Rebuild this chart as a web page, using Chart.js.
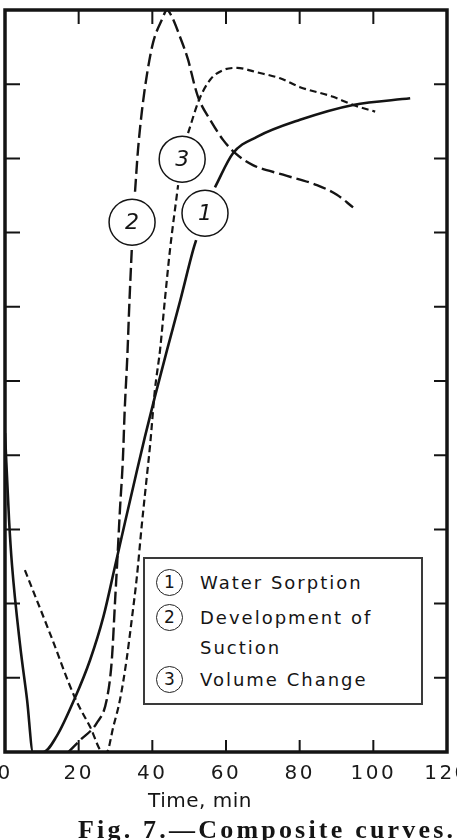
<!DOCTYPE html>
<html>
<head>
<meta charset="utf-8">
<title>Fig. 7 - Composite curves</title>
<script src="https://cdn.jsdelivr.net/npm/chart.js"></script>
<style>
	html, body { margin: 0; padding: 0; background: #fff; }
	body { width: 457px; height: 840px; overflow: hidden; position: relative; font-family: "DejaVu Sans", sans-serif; color: #151515; }
	#composite_chart { position: absolute; left: -20px; top: 0; }
	#legend-box { position: absolute; left: 143px; top: 557px; width: 276px; height: 144px; border: 2px solid #3a3a3a; background: #fff; }
	.legend-num { position: absolute; left: 11px; width: 25px; height: 25px; border: 1.6px solid #222; border-radius: 50%; text-align: center; font-size: 17px; line-height: 25px; }
	.legend-text { position: absolute; left: 55px; width: 190px; font-size: 18px; line-height: 30px; letter-spacing: 2px; }
	#axis-title { position: absolute; left: 0; top: 788px; width: 400px; text-align: center; font-size: 20px; line-height: 24px; letter-spacing: 0.5px; }
	#caption { position: absolute; left: 78px; top: 817px; font-family: "Liberation Serif", serif; font-weight: bold; font-size: 26px; line-height: 26px; letter-spacing: 3.2px; white-space: nowrap; }
</style>
</head>
<body>
<canvas id="composite_chart" width="497" height="800"></canvas>
<div id="legend-box"></div>
<div id="axis-title">Time, min</div>
<div id="caption">Fig. 7.—Composite curves.</div>

<script>
// valeurs (temps en min, ordonnée sans unité 0-10)
const seriesNames = ['Water Sorption', 'Development of Suction', 'Volume Change'];
const seriesNumbers = ['1', '2', '3'];

const sorptionTime  = [0, 1.1, 1.9, 4.1, 6.0, 7.6, 10.4, 14.0, 19.0, 23.1, 26.7, 29.9, 32.6, 35.3, 38.0, 40.7, 44.0, 47.5, 51.1, 51.9, 54.3, 57.0, 61.9, 68.4, 80.1, 94.5, 110.0];
const sorptionValue = [4.3, 3.13, 2.52, 1.44, 0.70, 0, 0, 0.21, 0.73, 1.24, 1.82, 2.51, 3.10, 3.68, 4.25, 4.79, 5.42, 6.07, 6.77, 6.90, null, 7.61, 8.07, 8.29, 8.52, 8.72, 8.81];

const suctionTime  = [17.2, 20.4, 24.9, 27.6, 29.0, 29.9, 30.5, 31.2, 32.0, 32.5, 33.2, 33.8, 34.5, 35.0, 35.3, 36.1, 37.2, 38.6, 40.2, 42.6, 44.0, 45.3, 47.5, 49.7, 51.6, 52.7, 55.7, 59.2, 62.5, 67.3, 75.5, 84.7, 90.1, 94.5];
const suctionValue = [0, 0.16, 0.39, 0.70, 1.24, 2.05, 2.59, 3.26, 3.94, 4.61, 5.32, 6.09, 6.86, null, 7.55, 8.11, 8.65, 9.15, 9.56, 9.87, 10.0, 9.91, 9.64, 9.33, 8.96, 8.79, 8.52, 8.25, 8.07, 7.91, 7.78, 7.64, 7.51, 7.34];

const volumeTime  = [5.4, 12.2, 19.0, 23.1, 26.6, 27.6, 29.4, 31.2, 33.0, 34.4, 35.8, 37.1, 38.5, 39.4, 40.7, 42.1, 43.4, 44.8, 47.0, 48.3, 49.7, 52.7, 55.7, 59.2, 63.0, 68.4, 74.7, 80.1, 89.1, 94.5, 100.5];
const volumeValue = [2.45, 1.60, 0.73, 0.34, 0, 0, 0.34, 0.70, 1.24, 1.78, 2.36, 3.04, 3.71, 4.14, 4.88, 5.42, 6.09, 6.77, 7.64, null, 8.34, 8.79, 9.06, 9.19, 9.22, 9.16, 9.08, 8.96, 8.83, 8.72, 8.63];

const xTickLabels = ['0', '20', '40', '60', '80', '100', '120'];

// étiquettes cerclées posées sur les courbes (en coordonnées des données)
const markerTime  = [54.3, 34.5, 48.1];
const markerValue = [7.26, 7.14, 7.99];

document.addEventListener('DOMContentLoaded', function()
{
	buildLegend();
	drawChart();
});

function toPoints(times, values)
{
	return times.map((t, i) => ({x: t, y: values[i]}));
}

function curve(label, times, values, dash, width)
{
	return {
		label: label,
		data: toPoints(times, values),
		borderColor: '#141414',
		borderWidth: width,
		borderDash: dash,
		pointRadius: 0,
		fill: false,
		spanGaps: false,
		cubicInterpolationMode: 'monotone'
	};
}

/* lettrage espacé pour les graduations (comme sur la figure) */
const spacedTicks = {
	id: 'spacedTicks',
	beforeDraw(chart)
	{
		chart.ctx.letterSpacing = '2.5px';
	},
	afterDraw(chart)
	{
		chart.ctx.letterSpacing = '0px';
	}
};

/* cadre épais + petites graduations vers l'intérieur + numéros cerclés */
const frameAndMarkers = {
	id: 'frameAndMarkers',
	afterDatasetsDraw(chart)
	{
		const ctx = chart.ctx;
		const a = chart.chartArea;
		const x = chart.scales.x;
		const y = chart.scales.y;

		ctx.save();
		ctx.strokeStyle = '#141414';
		ctx.lineWidth = 2;
		ctx.setLineDash([]);
		ctx.beginPath();
		x.ticks.forEach(t =>
		{
			if (t.value <= x.min || t.value >= x.max)
				return;
			const px = x.getPixelForValue(t.value);
			ctx.moveTo(px, a.bottom); ctx.lineTo(px, a.bottom - 12);
			ctx.moveTo(px, a.top); ctx.lineTo(px, a.top + 14);
		});
		y.ticks.forEach(t =>
		{
			if (t.value <= y.min || t.value >= y.max)
				return;
			const py = y.getPixelForValue(t.value);
			ctx.moveTo(a.left, py); ctx.lineTo(a.left + 15, py);
			ctx.moveTo(a.right, py); ctx.lineTo(a.right - 13, py);
		});
		ctx.stroke();

		ctx.lineWidth = 3.5;
		ctx.strokeRect(a.left, a.top, a.right - a.left, a.bottom - a.top);

		ctx.letterSpacing = '0px';
		ctx.lineWidth = 1.5;
		ctx.font = 'italic 22px "DejaVu Sans"';
		ctx.textAlign = 'center';
		ctx.textBaseline = 'middle';
		seriesNumbers.forEach((n, i) =>
		{
			const cx = x.getPixelForValue(markerTime[i]);
			const cy = y.getPixelForValue(markerValue[i]);
			ctx.beginPath();
			ctx.arc(cx, cy, 23, 0, Math.PI * 2);
			ctx.fillStyle = '#fff';
			ctx.fill();
			ctx.stroke();
			ctx.fillStyle = '#141414';
			ctx.fillText(n, cx, cy + 1);
		});
		ctx.restore();
	}
};

function drawChart()
{
	const ctx = document.getElementById('composite_chart').getContext('2d');

	new Chart(ctx, {
		type: 'line',
		data: {
			datasets: [
				curve(seriesNames[0], sorptionTime, sorptionValue, [], 2.6),
				curve(seriesNames[1], suctionTime, suctionValue, [13, 5], 2.4),
				curve(seriesNames[2], volumeTime, volumeValue, [7, 4], 2.2)
			]
		},
		options: {
			responsive: false,
			animation: false,
			layout: { padding: { left: 25, right: 30, top: 10, bottom: 4 } },
			plugins: {
				legend: { display: false },
				tooltip: { enabled: false }
			},
			scales: {
				x: {
					type: 'linear',
					min: 0,
					max: 120,
					grid: { display: false, drawTicks: false },
					border: { display: false },
					ticks: {
						stepSize: 20,
						padding: 10,
						color: '#1a1a1a',
						font: { family: 'DejaVu Sans', size: 20 },
						callback: (v) => xTickLabels[v / 20]
					}
				},
				y: {
					type: 'linear',
					min: 0,
					max: 10,
					grid: { display: false, drawTicks: false },
					border: { display: false },
					ticks: { stepSize: 1, display: false }
				}
			}
		},
		plugins: [spacedTicks, frameAndMarkers]
	});
}

function buildLegend()
{
	const box = document.getElementById('legend-box');
	const rowCenters = [24, 59, 121]; // centre de chaque ligne dans la boîte
	seriesNames.forEach((name, i) =>
	{
		const num = document.createElement('div');
		num.className = 'legend-num';
		num.style.top = (rowCenters[i] - 14) + 'px';
		num.textContent = seriesNumbers[i];
		box.appendChild(num);

		const txt = document.createElement('div');
		txt.className = 'legend-text';
		txt.style.top = (rowCenters[i] - 15) + 'px';
		txt.textContent = name;
		box.appendChild(txt);
	});
}
</script>
</body>
</html>
